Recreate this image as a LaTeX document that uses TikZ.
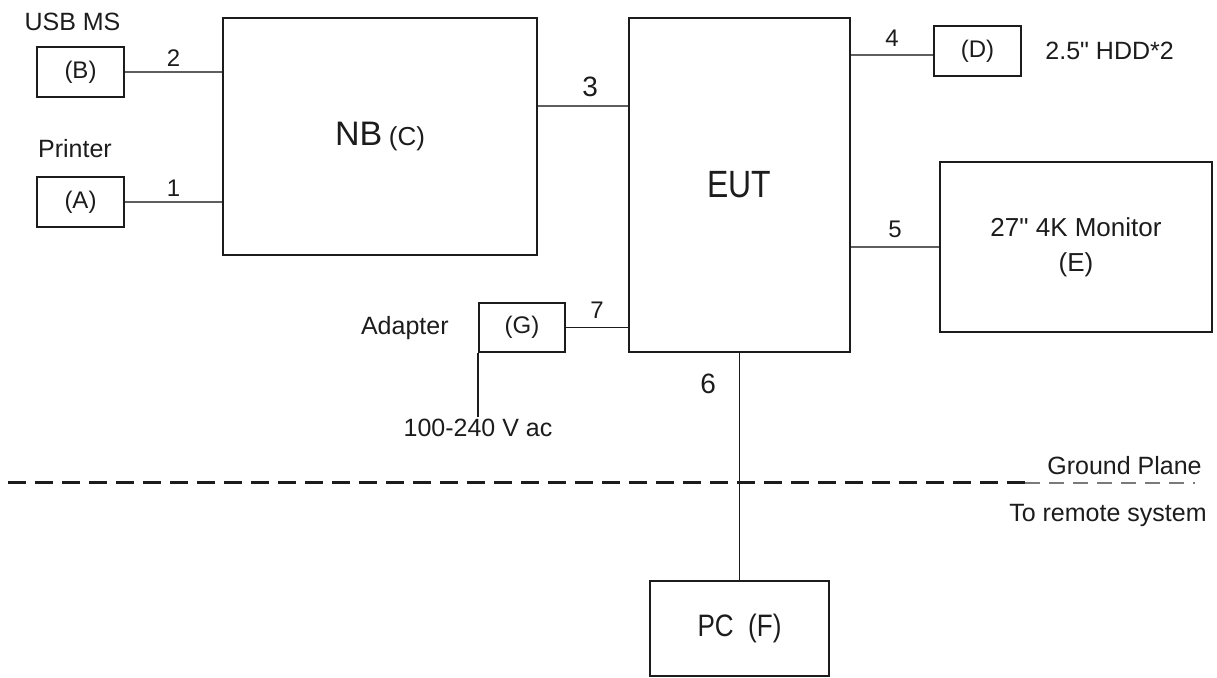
\documentclass[tikz,border=0pt]{standalone}
\usepackage{fontspec}
\newfontfamily\eqsans{Liberation Sans}
\newfontfamily\narrowsans[FakeStretch=0.84]{Liberation Sans}
\usepackage{xcolor}
\usepackage{tikz}
\usetikzlibrary{positioning}
\definecolor{eqInk}{HTML}{1C1C1C}
\definecolor{eqCable}{HTML}{5E5E5E}
\definecolor{eqFaint}{HTML}{7A7A7A}
\tikzset{
  unitbox/.style={draw=eqInk, line width=1pt, inner sep=0pt, align=center,
                  text=eqInk, font=\eqsans\fontsize{12}{14}\selectfont},
  cable/.style={draw=eqCable, line width=0.8pt},
  wire/.style={draw=eqInk, line width=0.6pt},
  cablenum/.style={font=\eqsans\fontsize{12}{14}\selectfont, text=eqInk, inner sep=2.5pt},
  eqnote/.style={font=\eqsans\fontsize{12.5}{15}\selectfont, text=eqInk, inner sep=1pt},
}

\begin{document}
\begin{tikzpicture}[x=0.5pt, y=-0.5pt, node distance=8pt]
    \useasboundingbox (0,0) rectangle (1217,678);
    \node[unitbox, minimum width=43.5pt, minimum height=25pt] (b) at (80.5,72) {(B)};
    \node[unitbox, minimum width=43.5pt, minimum height=25pt] (a) at (80.5,202) {(A)};
    \node[unitbox, minimum width=157pt, minimum height=118.5pt] (nb) at (380,136.5)
      {{\fontsize{17}{20}\selectfont NB} {\fontsize{13}{16}\selectfont (C)}};
    \node[unitbox, minimum width=110.5pt, minimum height=167pt] (eut) at (739.5,185)
      {\narrowsans\fontsize{19}{22}\selectfont EUT};
    \node[unitbox, minimum width=43.5pt, minimum height=25pt] (d) at (977.5,51) {(D)};
    \node[unitbox, minimum width=136pt, minimum height=85pt, font=\eqsans\fontsize{13}{17.5}\selectfont] (mon) at (1076,247)
      {27" 4K Monitor\\(E)};
    \node[unitbox, minimum width=43pt, minimum height=24.5pt] (g) at (522,327.5) {(G)};
    \node[unitbox, minimum width=89.5pt, minimum height=47.5pt] (pc) at (739.5,628.5)
      {\narrowsans\fontsize{15.5}{18}\selectfont PC~~(F)};
    \node[eqnote, anchor=base] (usbms) at (72.5,31) {USB MS};
    \node[eqnote, anchor=base] (printer) at (75,158) {Printer};
    \node[eqnote, anchor=base east] (adapter) at (451,335) {Adapter};
    \node[eqnote, right=10.5pt of d] (hdd) {2.5" HDD*2};
    \node[eqnote, below=32pt of g.south west] (ac) {100-240 V ac};
    \node[eqnote, anchor=base east] (gnd) at (1204,475) {Ground Plane};
    \node[eqnote, anchor=base east] (remote) at (1209,522) {To remote system};
    \coordinate (nb3) at ([yshift=15.25pt]nb.east);
    \coordinate (d4) at ([yshift=-2pt]d.west);
    \draw[cable] (b) -- node[cablenum, above]{2} (b -| nb.west);
    \draw[cable] (a) -- node[cablenum, above]{1} (a -| nb.west);
    \draw[cable] (nb3) -- node[cablenum, above=1.5pt, pos=.58, font=\eqsans\fontsize{14}{16}\selectfont]{3} (nb3 -| eut.west);
    \draw[cable] (d4 -| eut.east) -- node[cablenum, above=1.5pt]{4} (d4);
    \draw[cable] (mon -| eut.east) -- node[cablenum, above=1.5pt]{5} (mon);
    \draw[wire] (g) -- node[cablenum, above=1.5pt]{7} (g -| eut.west);
    \draw[wire] (eut) -- node[cablenum, pos=.135, left=9pt, font=\eqsans\fontsize{14}{16}\selectfont]{6} (pc);
    \draw[wire] (g.south west) -- (ac);
    \draw[eqInk, line width=1.5pt, dash pattern=on 9pt off 4.5pt] (8,483) -- (1025,483);
    \draw[eqFaint, line width=0.7pt, dash pattern=on 7.5pt off 4.5pt] (1025,483) -- (1195,483);
  \end{tikzpicture}
\end{document}
